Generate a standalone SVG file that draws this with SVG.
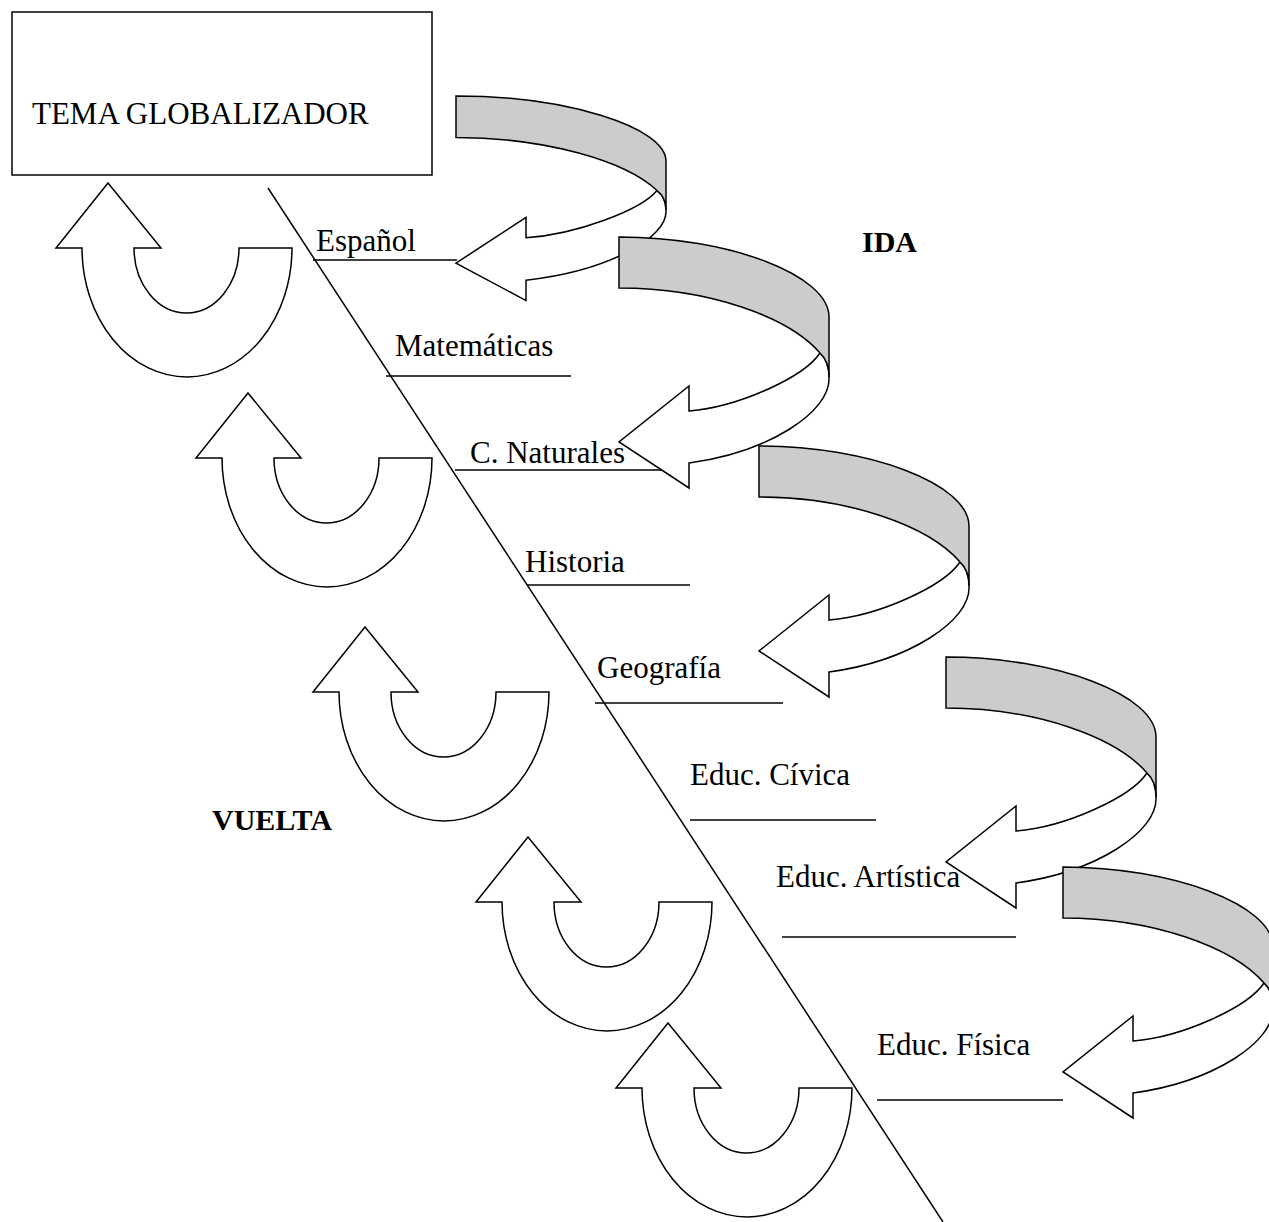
<svg xmlns="http://www.w3.org/2000/svg" width="1269" height="1222" viewBox="0 0 1269 1222">
<style>
.ln{stroke:#000;stroke-width:1.5;fill:none}
.sh{stroke:#000;stroke-width:1.5;fill:#fff;stroke-linejoin:miter;vector-effect:non-scaling-stroke}
.gr{stroke:#000;stroke-width:1.5;fill:#cccccc;vector-effect:non-scaling-stroke}
.t{font-family:"Liberation Serif","Times New Roman",serif;font-size:31px;fill:#000}
.b{font-weight:bold;font-size:30px}
</style>
<defs>
<g id="uarrow">
<path class="sh" d="M108,183 L161,248 L134,248 A52.5,65 0 0 0 239,248 L292,248 A105,129 0 0 1 82,248 L56,248 Z"/>
</g>
<g id="ribbon">
<path class="sh" d="M201,116 C185,140 120,170 70,174 L70,149 L0,205 L70,251 L70,226 C150,215 212,175 210,140 Q210,124 201,116 Z"/>
<path class="gr" d="M0,0 C110,0 210,38 210,80 L210,140 Q210,124 201,116 C170,80 90,51 0,51 Z"/>
</g>
</defs>

<g id="tema">
<rect x="12" y="12" width="420" height="163" fill="#fff" stroke="#000" stroke-width="1.5"/>
<text class="t" x="32" y="124">TEMA GLOBALIZADOR</text>
</g>

<g id="connectors">
<line class="ln" x1="268" y1="188" x2="943" y2="1222"/>
<line class="ln" x1="313" y1="260" x2="457" y2="260"/>
<line class="ln" x1="386" y1="376" x2="571" y2="376"/>
<line class="ln" x1="455" y1="470" x2="672" y2="470"/>
<line class="ln" x1="527" y1="585" x2="690" y2="585"/>
<line class="ln" x1="595" y1="703" x2="783" y2="703"/>
<line class="ln" x1="690" y1="820" x2="876" y2="820"/>
<line class="ln" x1="782" y1="937" x2="1016" y2="937"/>
<line class="ln" x1="877" y1="1100" x2="1063" y2="1100"/>
</g>

<g id="vuelta-arrows">
<use href="#uarrow"/>
<use href="#uarrow" transform="translate(140,210)"/>
<use href="#uarrow" transform="translate(257,444)"/>
<use href="#uarrow" transform="translate(420,654)"/>
<use href="#uarrow" transform="translate(560,840)"/>
</g>

<g id="ida-arrows">
<use href="#ribbon" transform="translate(456,96) scale(1,0.815)"/>
<use href="#ribbon" transform="translate(619,237)"/>
<use href="#ribbon" transform="translate(759,446)"/>
<use href="#ribbon" transform="translate(946,657)"/>
<use href="#ribbon" transform="translate(1063,867)"/>
</g>

<g id="labels">
<text class="t" x="316" y="251">Español</text>
<text class="t" x="395" y="356">Matemáticas</text>
<text class="t" x="470" y="463">C. Naturales</text>
<text class="t" x="525" y="572">Historia</text>
<text class="t" x="597" y="678">Geografía</text>
<text class="t" x="690" y="785">Educ. Cívica</text>
<text class="t" x="776" y="887">Educ. Artística</text>
<text class="t" x="877" y="1055">Educ. Física</text>
<text class="t b" x="862" y="252">IDA</text>
<text class="t b" x="212" y="830">VUELTA</text>
</g>
</svg>
